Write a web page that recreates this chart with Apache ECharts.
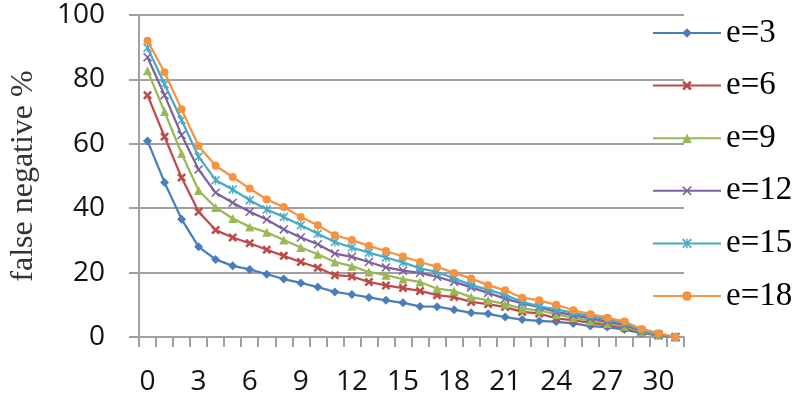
<!DOCTYPE html>
<html>
<head>
<meta charset="utf-8">
<script src="https://cdn.jsdelivr.net/npm/echarts@6/dist/echarts.min.js"></script>
<style>html,body{margin:0;padding:0;background:#fff}#c{width:802px;height:416px}</style>
</head>
<body>
<div id="c"></div>
<script>
const categories = ['0','1','2','3','4','5','6','7','8','9','10','11','12','13','14','15','16','17','18','19','20','21','22','23','24','25','26','27','28','29','30','31'];
const seriesNames = ['e=3','e=6','e=9','e=12','e=15','e=18'];
const e3  = [60.9,48.0,36.6,28.0,24.1,22.1,21.0,19.5,18.0,16.8,15.5,14.0,13.2,12.3,11.4,10.6,9.5,9.4,8.5,7.5,7.2,6.2,5.4,5.0,4.7,4.2,3.4,3.1,2.3,1.2,0.5,0];
const e6  = [75.1,62.2,49.5,38.9,33.2,30.9,29.1,27.1,25.2,23.3,21.5,19.2,18.8,17.1,16.0,15.2,14.3,13.0,12.4,10.9,10.2,9.3,7.8,7.3,5.8,5.2,4.4,3.7,2.9,1.4,0.5,0];
const e9  = [82.7,70.0,57.0,45.5,40.2,36.8,34.2,32.5,30.1,27.8,25.7,23.3,22.0,20.2,19.2,18.0,17.1,15.0,14.3,12.4,11.4,10.2,8.8,8.3,7.0,6.0,5.0,4.2,3.3,1.6,0.6,0];
const e12 = [86.9,75.1,62.7,52.0,44.8,41.7,38.9,36.5,33.4,30.9,28.8,25.9,24.9,23.3,21.6,20.6,19.9,18.7,17.1,15.4,13.7,11.9,10.4,9.3,7.8,6.8,5.8,4.8,3.8,1.8,0.7,0];
const e15 = [89.8,78.5,67.4,56.0,48.7,45.8,42.5,39.6,37.3,34.7,32.1,29.5,27.8,26.2,24.7,23.2,21.3,20.2,18.2,16.1,14.7,13.0,10.9,9.5,8.6,7.5,6.5,5.5,4.3,2.0,0.8,0];
const e18 = [92.0,82.2,70.7,59.3,53.2,49.7,46.1,42.7,40.4,37.3,34.7,31.6,30.1,28.3,26.7,25.0,23.3,21.8,19.9,18.2,16.1,14.5,12.2,11.4,10.0,8.3,7.1,6.0,4.8,2.5,1.2,0];
const yTicks = [0,20,40,60,80,100];
const yTitle = 'false negative %';

const allData = [e3,e6,e9,e12,e15,e18];
const colors = ['#4A7EBB','#BE4B48','#98B954','#7D60A0','#46AAC5','#F69240'];
const symbols = [
  'diamond',
  'path://M0,2 L2,0 L5,3 L8,0 L10,2 L7,5 L10,8 L8,10 L5,7 L2,10 L0,8 L3,5 Z',
  'triangle',
  'path://M0,1.2 L1.2,0 L5,3.8 L8.8,0 L10,1.2 L6.2,5 L10,8.8 L8.8,10 L5,6.2 L1.2,10 L0,8.8 L3.8,5 Z',
  'path://M0,1.2 L1.2,0 L5,3.8 L8.8,0 L10,1.2 L6.2,5 L10,8.8 L8.8,10 L5,6.2 L1.2,10 L0,8.8 L3.8,5 Z M4.3,0 L5.7,0 L5.7,10 L4.3,10 Z',
  'circle'
];
const sizes = [9,9,9,9,9,8];
const serif = 'Liberation Serif';

const chart = echarts.init(document.getElementById('c'), null, {renderer:'canvas'});
const gridColor = '#A0A0A0';
chart.setOption({
  animation: false,
  backgroundColor: '#fff',
  textStyle: {fontFamily: serif},
  grid: {left:129, right:118, top:15, bottom:79, containLabel:false},
  legend: {
    orient: 'vertical',
    left: 652,
    top: 16,
    padding: 0,
    itemWidth: 68,
    itemHeight: 12,
    itemGap: 18.6,
    formatter: '{s|{name}}',
    textStyle: {fontFamily: serif, fontSize: 33, color: '#000', lineHeight: 34,
      rich: {s: {fontFamily: serif, fontSize: 33, color: '#000', lineHeight: 34}}},
    data: seriesNames
  },
  xAxis: {
    type: 'category',
    data: categories,
    boundaryGap: true,
    axisLine: {lineStyle: {color: gridColor, width: 2}},
    axisTick: {show: true, interval: 0, length: 10, lineStyle: {color: gridColor, width: 2}},
    axisLabel: {interval: 2, margin: 31, fontFamily: 'Open Sans', fontSize: 28, color: '#111'},
    splitLine: {show: false}
  },
  yAxis: {
    type: 'value',
    min: 0, max: 100, interval: 20,
    name: yTitle,
    nameLocation: 'middle',
    nameGap: 99,
    nameTextStyle: {fontFamily: serif, fontSize: 32, color: '#333'},
    axisLine: {show: true, lineStyle: {color: gridColor, width: 2}},
    axisTick: {show: true, length: 10, lineStyle: {color: gridColor, width: 2}},
    axisLabel: {margin: 34, fontFamily: 'Open Sans', fontSize: 28, color: '#111',
      formatter: v => yTicks.includes(v) ? String(v) : ''},
    splitLine: {show: true, lineStyle: {color: gridColor, width: 2}}
  },
  series: seriesNames.map((n, i) => ({
    name: n,
    type: 'line',
    data: allData[i],
    symbol: symbols[i],
    symbolSize: sizes[i],
    showAllSymbol: true,
    lineStyle: {color: colors[i], width: 2.25},
    itemStyle: {color: colors[i]},
    z: 2 + i
  }))
});
</script>
</body>
</html>
